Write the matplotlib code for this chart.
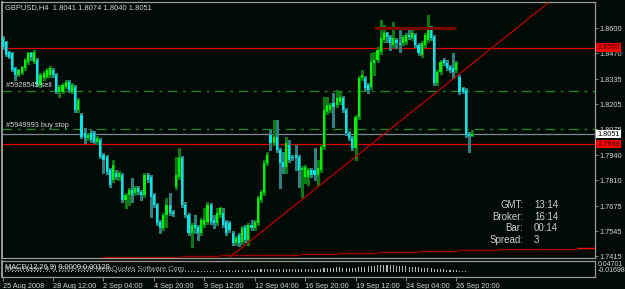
import matplotlib
matplotlib.use("Agg")
import matplotlib.pyplot as plt

plt.rcParams['font.family'] = ['Liberation Sans', 'DejaVu Sans']
plt.rcParams['lines.scale_dashes'] = False

# ---------------- data ----------------
title_text = "GBPUSD,H4  1.8041 1.8074 1.8040 1.8051"

opens = [1.8550, 1.8530, 1.8478, 1.8472, 1.8394, 1.8358, 1.8368, 1.8394, 1.8426, 1.8472,
         1.8426, 1.8436, 1.8306, 1.8342, 1.8348, 1.8358, 1.8384, 1.8358, 1.8270, 1.8270,
         1.8296, 1.8322, 1.8270, 1.8296, 1.8176, 1.8150, 1.8056, 1.8030, 1.8056, 1.8056,
         1.8010, 1.8020, 1.7942, 1.7932, 1.7864, 1.7812, 1.7848, 1.7828, 1.7838, 1.7708,
         1.7734, 1.7760, 1.7744, 1.7770, 1.7750, 1.7734, 1.7838, 1.7828, 1.7734, 1.7682,
         1.7594, 1.7562, 1.7630, 1.7682, 1.7646, 1.7776, 1.7828, 1.7926, 1.7682, 1.7630,
         1.7536, 1.7578, 1.7568, 1.7536, 1.7578, 1.7594, 1.7682, 1.7604, 1.7588, 1.7630,
         1.7640, 1.7594, 1.7588, 1.7536, 1.7484, 1.7526, 1.7490, 1.7568, 1.7500, 1.7578,
         1.7562, 1.7588, 1.7708, 1.7744, 1.7900, 1.8046, 1.8004, 1.8036, 1.7968, 1.7906,
         1.7880, 1.7994, 1.7932, 1.7942, 1.7932, 1.7864, 1.7828, 1.7828, 1.7864, 1.7864,
         1.7838, 1.7864, 1.7984, 1.8166, 1.8176, 1.8212, 1.8202, 1.8218, 1.8238, 1.8176,
         1.8056, 1.8030, 1.7978, 1.8140, 1.8342, 1.8342, 1.8306, 1.8296, 1.8420, 1.8436,
         1.8478, 1.8540, 1.8576, 1.8556, 1.8514, 1.8540, 1.8524, 1.8524, 1.8530, 1.8566,
         1.8550, 1.8566, 1.8514, 1.8462, 1.8514, 1.8540, 1.8602, 1.8556, 1.8316, 1.8374,
         1.8436, 1.8420, 1.8400, 1.8394, 1.8384, 1.8348, 1.8290, 1.8280, 1.8050, 1.8041]

highs = [1.8561, 1.8535, 1.8483, 1.8478, 1.8400, 1.8389, 1.8405, 1.8446, 1.8478, 1.8478,
         1.8488, 1.8446, 1.8368, 1.8379, 1.8394, 1.8405, 1.8394, 1.8368, 1.8306, 1.8316,
         1.8332, 1.8332, 1.8316, 1.8306, 1.8238, 1.8160, 1.8082, 1.8056, 1.8072, 1.8067,
         1.8041, 1.8030, 1.7952, 1.7942, 1.7874, 1.7916, 1.7864, 1.7859, 1.7848, 1.7744,
         1.7770, 1.7822, 1.7781, 1.7781, 1.7760, 1.7848, 1.7848, 1.7838, 1.7744, 1.7692,
         1.7604, 1.7640, 1.7718, 1.7744, 1.7656, 1.7932, 1.7978, 1.7937, 1.7698, 1.7640,
         1.7588, 1.7630, 1.7578, 1.7614, 1.7666, 1.7698, 1.7692, 1.7630, 1.7666, 1.7672,
         1.7666, 1.7604, 1.7599, 1.7547, 1.7521, 1.7536, 1.7573, 1.7578, 1.7588, 1.7604,
         1.7604, 1.7729, 1.7760, 1.7916, 1.7958, 1.8072, 1.8124, 1.8124, 1.7978, 1.7958,
         1.8036, 1.8020, 1.7942, 1.7994, 1.7942, 1.7885, 1.7890, 1.7874, 1.7874, 1.7978,
         1.7916, 1.7994, 1.8244, 1.8244, 1.8212, 1.8264, 1.8280, 1.8270, 1.8249, 1.8186,
         1.8067, 1.8041, 1.8150, 1.8353, 1.8384, 1.8353, 1.8316, 1.8472, 1.8478, 1.8504,
         1.8644, 1.8618, 1.8582, 1.8566, 1.8634, 1.8550, 1.8602, 1.8566, 1.8576, 1.8602,
         1.8602, 1.8576, 1.8524, 1.8535, 1.8576, 1.8670, 1.8613, 1.8566, 1.8384, 1.8436,
         1.8446, 1.8436, 1.8410, 1.8472, 1.8431, 1.8358, 1.8296, 1.8290, 1.8061, 1.8074]

lows = [1.8493, 1.8457, 1.8446, 1.8379, 1.8332, 1.8353, 1.8363, 1.8384, 1.8415, 1.8436,
        1.8420, 1.8301, 1.8296, 1.8332, 1.8342, 1.8348, 1.8348, 1.8264, 1.8244, 1.8264,
        1.8290, 1.8270, 1.8264, 1.8166, 1.8166, 1.8030, 1.8004, 1.8020, 1.8010, 1.8004,
        1.7999, 1.7926, 1.7848, 1.7843, 1.7776, 1.7802, 1.7817, 1.7812, 1.7698, 1.7666,
        1.7682, 1.7698, 1.7734, 1.7739, 1.7708, 1.7724, 1.7802, 1.7620, 1.7672, 1.7578,
        1.7536, 1.7552, 1.7568, 1.7630, 1.7625, 1.7765, 1.7817, 1.7672, 1.7620, 1.7526,
        1.7464, 1.7536, 1.7500, 1.7526, 1.7568, 1.7583, 1.7583, 1.7562, 1.7578, 1.7620,
        1.7568, 1.7526, 1.7542, 1.7474, 1.7474, 1.7469, 1.7479, 1.7490, 1.7474, 1.7552,
        1.7552, 1.7578, 1.7698, 1.7734, 1.7890, 1.7968, 1.7994, 1.7958, 1.7770, 1.7848,
        1.7848, 1.7906, 1.7916, 1.7864, 1.7776, 1.7724, 1.7796, 1.7786, 1.7828, 1.7812,
        1.7786, 1.7854, 1.7973, 1.8155, 1.8166, 1.8088, 1.8192, 1.8207, 1.8166, 1.8046,
        1.8020, 1.7968, 1.7916, 1.8129, 1.8332, 1.8280, 1.8264, 1.8285, 1.8358, 1.8426,
        1.8467, 1.8530, 1.8530, 1.8488, 1.8504, 1.8498, 1.8478, 1.8514, 1.8519, 1.8545,
        1.8540, 1.8504, 1.8462, 1.8452, 1.8504, 1.8530, 1.8540, 1.8306, 1.8306, 1.8363,
        1.8410, 1.8384, 1.8374, 1.8342, 1.8374, 1.8259, 1.8264, 1.8036, 1.7958, 1.8040]

closes = [1.8504, 1.8462, 1.8452, 1.8384, 1.8358, 1.8384, 1.8400, 1.8436, 1.8472, 1.8452,
          1.8478, 1.8306, 1.8358, 1.8368, 1.8384, 1.8394, 1.8358, 1.8270, 1.8296, 1.8306,
          1.8322, 1.8280, 1.8306, 1.8176, 1.8228, 1.8036, 1.8030, 1.8046, 1.8020, 1.8010,
          1.8030, 1.7932, 1.7916, 1.7854, 1.7786, 1.7890, 1.7828, 1.7848, 1.7708, 1.7734,
          1.7760, 1.7734, 1.7770, 1.7750, 1.7734, 1.7838, 1.7812, 1.7724, 1.7682, 1.7588,
          1.7562, 1.7630, 1.7682, 1.7640, 1.7635, 1.7838, 1.7926, 1.7682, 1.7630, 1.7536,
          1.7578, 1.7562, 1.7536, 1.7604, 1.7604, 1.7682, 1.7594, 1.7588, 1.7640, 1.7666,
          1.7578, 1.7536, 1.7552, 1.7484, 1.7510, 1.7484, 1.7562, 1.7500, 1.7578, 1.7562,
          1.7594, 1.7718, 1.7750, 1.7900, 1.7942, 1.8004, 1.8036, 1.7968, 1.7900, 1.7880,
          1.8004, 1.7916, 1.7926, 1.7926, 1.7864, 1.7874, 1.7880, 1.7864, 1.7838, 1.7838,
          1.7874, 1.7984, 1.8176, 1.8202, 1.8202, 1.8192, 1.8238, 1.8244, 1.8176, 1.8056,
          1.8030, 1.7978, 1.8140, 1.8342, 1.8358, 1.8290, 1.8280, 1.8426, 1.8436, 1.8488,
          1.8550, 1.8576, 1.8556, 1.8524, 1.8550, 1.8524, 1.8514, 1.8556, 1.8566, 1.8556,
          1.8576, 1.8514, 1.8472, 1.8524, 1.8566, 1.8602, 1.8550, 1.8316, 1.8374, 1.8426,
          1.8420, 1.8394, 1.8384, 1.8374, 1.8420, 1.8270, 1.8270, 1.8046, 1.8041, 1.8051]

macd_hist = [0.004, 0.004, 0.005, 0.004, 0.004, 0.005, 0.004, 0.004, 0.005, 0.004,
             0.004, 0.005, 0.004, 0.004, 0.005, 0.004, 0.004, 0.005, 0.004, 0.004,
             0.005, 0.004, 0.004, 0.005, 0.004, 0.004, 0.005, 0.004, 0.004, 0.005,
             0.004, 0.004, 0.005, 0.004, 0.004, 0.005, 0.004, 0.004, 0.005, 0.004,
             0.004, 0.005, 0.004, 0.004, 0.005, 0.004, 0.004, 0.005, 0.004, 0.004,
             0.005, 0.004, 0.004, 0.005, 0.004, 0.004, 0.005, 0.004,
             0.005, 0.006, 0.005, 0.006, 0.006, 0.007, 0.006, 0.007, 0.007, 0.006,
             0.007, 0.008, 0.007, 0.008, 0.008, 0.007, 0.008, 0.008, 0.009, 0.009,
             0.010, 0.011, 0.011, 0.012, 0.013, 0.013, 0.014, 0.014, 0.015, 0.014,
             0.013, 0.013, 0.014, 0.013, 0.013, 0.012, 0.012,
             0.012, 0.012, 0.013, 0.013, 0.013, 0.014, 0.015, 0.017, 0.018, 0.019,
             0.019, 0.020, 0.020, 0.019, 0.018, 0.017, 0.017, 0.018,
             0.020, 0.022, 0.023, 0.024, 0.026, 0.027, 0.028, 0.029, 0.030, 0.029,
             0.029, 0.028, 0.027,
             0.026, 0.025, 0.024, 0.023, 0.022, 0.021, 0.020, 0.019, 0.019, 0.018, 0.017,
             0.015, 0.014, 0.013, 0.012, 0.011, 0.010, 0.009, 0.008, 0.007, 0.006,
             0.004, 0.003, 0.003]

price_ticks = [1.8600, 1.8470, 1.8335, 1.8205, 1.8075, 1.7940, 1.7810, 1.7675, 1.7545, 1.7415]
time_tick_bars = [0, 16, 32, 48, 64, 80, 96, 112, 128, 144]
time_tick_labels = ["25 Aug 2008", "28 Aug 12:00", "2 Sep 04:00", "4 Sep 20:00", "9 Sep 12:00",
                    "12 Sep 04:00", "16 Sep 20:00", "19 Sep 12:00", "24 Sep 04:00", "26 Sep 20:00"]

level_red_high = 1.8500
level_red_low = 1.7999
level_sell = 1.8274
level_buystop = 1.8077
label_sell = "#5928545 sell"
label_buystop = "#5949993 buy stop"

trend_x = [72.2, 173.1]
trend_y = [1.7412, 1.8732]
resist_x = [117.9, 143.9]
resist_y = [1.8602, 1.8602]

step_starts = [31.5, 44.5, 56.6, 69.0, 81.7, 94.4, 106.4, 119.1, 131.8, 144.2, 156.9, 169.6, 182.3]
step_ends = [44.5, 56.6, 69.0, 81.7, 94.4, 106.4, 119.1, 131.8, 144.2, 156.9, 169.6, 182.3, 188.1]
step_levels = [1.74100, 1.74132, 1.74168, 1.74204, 1.74246, 1.74293, 1.74334, 1.74381,
               1.74428, 1.74470, 1.74511, 1.74548, 1.74584]

info_labels = ["GMT:", "Broker:", "Bar:", "Spread:"]
info_values = ["13:14", "16:14", "00:14", "3"]

macd_max = 0.04701
macd_min = -0.01698

# ---------------- style ----------------
BG = '#020a06'
BORDER = '#9a9a9a'
TXT = '#d4d4d4'
BULL = '#00f000'
BEAR = '#00e6e6'
BULL_W = '#0c7a14'
BEAR_W = '#2f8080'

W, H = 625, 289
def rect(x0, y0, x1, y1):
    return [x0 / W, 1 - y1 / H, (x1 - x0) / W, (y1 - y0) / H]

fig = plt.figure(figsize=(W / 100, H / 100), dpi=100, facecolor=BG)
ax = fig.add_axes(rect(2, 2, 595, 258), facecolor=BG)
ax2 = fig.add_axes(rect(2, 260.7, 595, 276.7), facecolor=BG)

n = len(closes)
idx = list(range(n))
xlim = (-0.22, 188.03)
ax.set_xlim(*xlim)
ax.set_ylim(1.74064, 1.87376)
ax2.set_xlim(*xlim)
ax2.set_ylim(macd_min, macd_max)

for a in (ax, ax2):
    for s in a.spines.values():
        s.set_color(BORDER)
        s.set_linewidth(0.9)
ax.spines['left'].set_linewidth(1.4)
ax2.spines['left'].set_linewidth(1.4)

# horizontal levels
ax.axhline(level_red_high, color='#e00000', lw=0.9, zorder=1)
ax.axhline(level_red_low, color='#e00000', lw=0.9, zorder=1)
ax.axhline(closes[-1], color='#7d8a96', lw=0.9, zorder=1)
dd = (0, (7, 4, 2, 4))
ax.axhline(level_sell, color='#1c8c1c', lw=0.9, linestyle=dd, zorder=1)
ax.axhline(level_buystop, color='#1c8c1c', lw=0.9, linestyle=dd, zorder=1)

# candles
wcol = [BULL_W if c >= o else BEAR_W for o, c in zip(opens, closes)]
bcol = [BULL if c >= o else BEAR for o, c in zip(opens, closes)]
ax.vlines(idx, lows, highs, colors=wcol, lw=0.8, zorder=2, antialiased=False)
bottoms = [min(o, c) for o, c in zip(opens, closes)]
heights = [max(abs(c - o), 0.0005) for o, c in zip(opens, closes)]
ax.bar(idx, heights, bottom=bottoms, width=0.68, color=bcol, linewidth=0,
       zorder=3, antialiased=False)

# lines drawn by user
ax.plot(trend_x, trend_y, color='#c00000', lw=0.9, zorder=4)
ax.plot(resist_x, resist_y, color='#7a0000', lw=2.2, zorder=4, solid_capstyle='butt')
step_cols = ['#9a0000'] * (len(step_levels) - 1) + ['#ff1010']
ax.hlines(step_levels, step_starts, step_ends, colors=step_cols, lw=1.0, zorder=4)

# y axis on the right
ax.set_xticks([])
ax.yaxis.tick_right()
ax.set_yticks(price_ticks)
ax.set_yticklabels([f"{p:.4f}" for p in price_ticks])
ax.tick_params(axis='y', length=2, width=0.6, pad=1.5, color=BORDER,
               labelcolor=TXT, labelsize=5.3)

def price_box(p, fc, tc):
    ax.text(1.004, p, f"{p:.4f}", transform=ax.get_yaxis_transform(), ha='left',
            va='center', fontsize=5.3, color=tc, zorder=10, clip_on=False,
            bbox=dict(boxstyle='square,pad=0.12', fc=fc, ec='none'))

price_box(level_red_high, '#ff0000', '#300000')
price_box(closes[-1], '#ffffff', '#000000')
price_box(level_red_low, '#ff0000', '#300000')

# texts
ax.text(0.005, 0.993, title_text, transform=ax.transAxes, ha='left', va='top',
        fontsize=5.4, color=TXT)
ax.annotate(label_sell, xy=(0, level_sell), xycoords=('axes fraction', 'data'),
            xytext=(4, 2.5), textcoords='offset pixels', ha='left', va='bottom',
            fontsize=5.3, color=TXT)
ax.annotate(label_buystop, xy=(0, level_buystop), xycoords=('axes fraction', 'data'),
            xytext=(4, 0.5), textcoords='offset pixels', ha='left', va='bottom',
            fontsize=5.3, color=TXT)

rows_y = [0.207, 0.1613, 0.116, 0.0703]
for lab, val, yy in zip(info_labels, info_values, rows_y):
    ax.text(0.8786, yy, lab, transform=ax.transAxes, ha='right', va='center',
            fontsize=7, color='#cfcfcf')
    ax.text(0.8971, yy, val, transform=ax.transAxes, ha='left', va='center',
            fontsize=7, color='#cfcfcf')

# MACD sub window
ax2.bar(idx, macd_hist, width=0.32, color='#b4b4b4', linewidth=0, antialiased=False)
ax2.set_yticks([])
ax2.text(0.005, 0.45, "MetaTrader 4 \u00a9 2001-2008 MetaQuotes Software Corp.",
         transform=ax2.transAxes, ha='left', va='center', fontsize=5.3, color='#a8a8a8')
ax2.text(0.005, 0.6, "MACD(12,26,9) 0.0000 0.00129", transform=ax2.transAxes,
         ha='left', va='center', fontsize=5.3, color='#e0e0e0')
ax2.text(1.005, 0.97, f"{macd_max:.5f}", transform=ax2.transAxes, ha='left', va='top',
         fontsize=5.0, color=TXT, clip_on=False)
ax2.text(1.005, 0.62, f"{macd_min:.5f}", transform=ax2.transAxes, ha='left', va='top',
         fontsize=5.0, color=TXT, clip_on=False)

ax2.set_xticks(time_tick_bars)
ax2.set_xticklabels(time_tick_labels)
for t in ax2.get_xticklabels():
    t.set_ha('left')
ax2.tick_params(axis='x', length=3, width=0.6, pad=1.2, color=BORDER,
                labelcolor=TXT, labelsize=5.3)

fig.savefig("out.png", dpi=100, facecolor=BG)
